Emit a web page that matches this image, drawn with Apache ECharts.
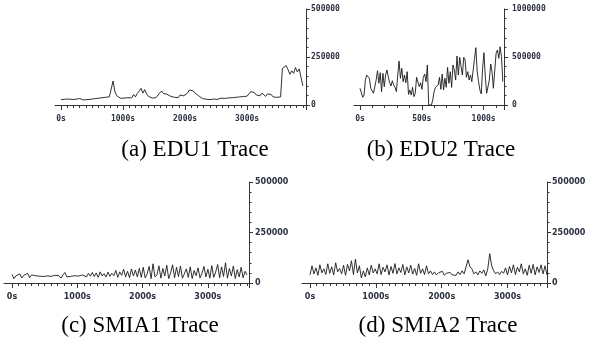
<!DOCTYPE html>
<html>
<head>
<meta charset="utf-8">
<script src="https://cdn.jsdelivr.net/npm/echarts@6/dist/echarts.min.js"></script>
<style>
  html, body { margin: 0; background: #fff; }
  #chart { width: 589px; height: 339px; }
</style>
</head>
<body>
<div id="chart"></div>
<script>
// sample spacing of each trace, seconds
const EDU1_STEP = 30
const EDU2_STEP = 10.9
const SMIA1_STEP = 30
const SMIA2_STEP = 30

const edu1Values = [
  28000, 35000, 30000, 38000, 31000, 36000, 29000,
  33000, 30000, 27000, 34000, 29000, 26000, 32000, 28000, 35000, 30000,
  37000, 33000, 40000, 35000, 42000, 38000, 44000,
  40000, 47000, 43000, 52000,
  125000,
  68000, 48000, 40000, 35000, 33000, 36000, 32000, 38000,
  44000, 37000, 55000, 42000, 60000,
  72000, 87000, 62000, 80000, 58000,
  45000, 40000, 36000, 42000, 38000, 48000,
  62000, 73000, 60000, 70000, 56000, 64000,
  45000, 50000, 40000, 46000, 38000, 52000, 42000, 48000, 55000, 62000,
  78000, 70000, 74000, 62000, 68000,
  48000, 38000, 34000,
  36000, 30000, 33000, 28000, 35000, 31000, 34000, 29000, 32000, 36000,
  30000, 34000, 31000, 37000, 33000, 38000, 35000, 40000, 36000, 42000,
  48000, 44000, 40000, 46000, 42000, 70000,
  60000, 64000, 52000, 58000, 48000, 62000, 55000, 45000, 58000, 50000,
  54000, 42000, 47000, 40000,
  36000, 42000,
  190000,
  200000, 205000, 185000, 160000, 178000, 165000, 195000, 172000, 188000, 192000, 100000
]

const edu2Values = [
  174000, 156000, 80000, 104000, 260000, 312000, 323000, 278000, 174000, 184000,
  122000, 104000, 260000, 357000, 226000, 337000, 139000, 330000, 191000, 312000,
  365000, 295000, 233000, 198000, 253000, 208000, 184000, 139000, 312000, 458000,
  278000, 382000, 243000, 312000, 232000, 347000, 111000, 156000, 104000, 184000,
  87000, 122000, 288000, 295000, 191000, 232000, 163000, 288000, 323000, 243000,
  417000, 0, 0, 0, 52000, 139000, 184000, 191000, 208000, 288000,
  163000, 323000, 156000, 278000, 184000, 392000, 226000, 347000, 184000, 417000,
  365000, 260000, 510000, 312000, 497000, 399000, 312000, 497000, 469000, 288000,
  347000, 260000, 312000, 243000, 365000, 486000, 597000, 347000, 243000, 156000,
  115000, 382000, 545000, 295000, 122000, 191000, 260000, 427000, 347000, 174000,
  156000, 538000, 573000, 486000, 607000, 503000, 243000
]

const smia1Values = [
  42000, 22000, 35000, 28000, 45000, 25000, 38000, 30000, 48000, 26000,
  40000, 32000, 36000, 30000, 34000, 28000, 32000, 27000, 35000, 30000,
  33000, 26000, 38000, 29000, 36000, 24000, 40000,
  52000, 30000, 38000, 33000, 28000, 36000, 30000, 34000, 29000, 40000,
  45000, 30000, 48000, 34000, 52000, 32000, 50000, 28000, 55000, 35000,
  46000, 30000, 54000, 33000, 48000, 36000,
  62000, 28000, 55000, 38000, 68000, 30000, 58000, 26000, 70000, 35000,
  64000, 30000, 72000, 28000,
  78000, 25000, 45000, 82000, 22000, 95000, 30000, 40000, 85000, 24000,
  72000, 35000, 88000, 22000, 50000, 90000, 26000, 78000, 32000, 84000,
  24000, 45000, 70000, 28000, 80000, 22000, 62000, 36000, 75000, 25000,
  48000, 82000, 30000, 68000, 24000, 86000, 28000, 55000, 92000, 26000,
  80000, 32000, 100000, 24000, 72000, 35000, 84000, 22000, 66000, 30000,
  78000, 26000, 58000, 40000
]

const smia2Values = [
  40000, 85000, 45000, 75000, 38000, 90000, 50000, 70000, 42000, 95000,
  48000, 80000, 40000, 100000, 55000, 72000, 45000, 88000, 38000, 92000,
  60000, 110000, 42000, 118000, 50000, 85000,
  25000, 60000, 30000, 75000,
  40000, 88000, 50000, 70000, 45000, 95000, 42000, 78000, 55000, 90000,
  40000, 82000, 48000, 96000, 45000, 75000, 52000, 92000, 40000, 80000,
  50000, 88000, 44000, 72000, 38000, 95000, 48000, 70000, 42000, 85000,
  45000,
  60000, 42000, 55000, 40000, 50000, 45000, 58000, 38000, 48000, 42000,
  52000, 40000, 46000, 38000, 55000, 42000, 60000, 45000, 50000,
  115000, 80000, 70000,
  45000, 55000, 40000, 60000, 48000, 65000, 35000, 70000,
  145000, 85000, 60000,
  45000, 55000, 42000, 58000, 48000,
  75000, 40000, 82000, 50000, 90000, 42000, 78000, 55000, 95000, 45000,
  70000, 38000, 88000, 48000, 92000, 40000, 80000, 52000, 90000, 45000,
  85000, 40000
]

const captions = ["(a) EDU1 Trace", "(b) EDU2 Trace", "(c) SMIA1 Trace", "(d) SMIA2 Trace"]
const xLabelSuffix = "s"

const monoText = {fontFamily: "DejaVu Sans Mono", fontSize: 8, fontWeight: "bold", color: "#2b3140"}
const sansText = {fontFamily: "DejaVu Sans", fontSize: 8, fontWeight: "bold", color: "#2b3140"}

const panels = [
  {values: edu1Values, step: EDU1_STEP, xMax: 3950, xInterval: 1000, xSplit: 10, yMax: 500000,
   box: {left: 61, right: 283, top: 9, bottom: 234}, ext: 6, text: monoText, yMargin: 5,
   cap: [195, 150]},
  {values: edu2Values, step: EDU2_STEP, xMax: 1165, xInterval: 500, xSplit: 5, yMax: 1000000,
   box: {left: 360, right: 85, top: 9, bottom: 234}, ext: 6, text: monoText, yMargin: 8,
   cap: [441, 150]},
  {values: smia1Values, step: SMIA1_STEP, xMax: 3630, xInterval: 1000, xSplit: 10, yMax: 500000,
   box: {left: 12, right: 340, top: 182, bottom: 56}, ext: 8, text: sansText, yMargin: 6,
   cap: [140, 326]},
  {values: smia2Values, step: SMIA2_STEP, xMax: 3600, xInterval: 1000, xSplit: 10, yMax: 500000,
   box: {left: 310, right: 42, top: 182, bottom: 56}, ext: 8, text: sansText, yMargin: 5,
   cap: [438, 326]},
]

const axisColor = "#333"
const grid = [], xAxis = [], yAxis = [], series = [], graphic = []

panels.forEach((p, i) => {
  grid.push({...p.box})
  xAxis.push({
    type: "value", gridIndex: i, min: 0, max: p.xMax, interval: p.xInterval,
    axisLine: {show: true, onZero: false, lineStyle: {color: axisColor, width: 1}},
    axisTick: {show: true, length: 5, lineStyle: {color: axisColor}},
    minorTick: {show: true, splitNumber: p.xSplit, length: 3, lineStyle: {color: axisColor}},
    axisLabel: {...p.text, margin: 10, showMaxLabel: false, formatter: v => v + xLabelSuffix},
    splitLine: {show: false},
  })
  yAxis.push({
    type: "value", gridIndex: i, position: "right", min: 0, max: p.yMax, interval: p.yMax / 2,
    axisLine: {show: true, onZero: false, lineStyle: {color: axisColor, width: 1}},
    axisTick: {show: true, length: 4, lineStyle: {color: axisColor}},
    minorTick: {show: true, splitNumber: 5, length: 2.5, lineStyle: {color: axisColor}},
    axisLabel: {...p.text, margin: p.yMargin, formatter: v => String(v)},
    splitLine: {show: false},
  })
  series.push({
    type: "line", xAxisIndex: i, yAxisIndex: i, symbol: "none", silent: true,
    lineStyle: {color: "#1a1a1a", width: 0.9},
    data: p.values.map((v, k) => [k * p.step, v]),
  })
  graphic.push({
    type: "text", x: p.cap[0], y: p.cap[1],
    style: {
      text: captions[i], fill: "#000", font: "23px 'Liberation Serif'",
      align: "center", verticalAlign: "middle", textAlign: "center", textVerticalAlign: "middle",
    },
  })
})

// the x axis line runs a few pixels left of 0s, draw that part on an overlaid grid
panels.forEach((p, i) => {
  const g = grid.length
  grid.push({...p.box, left: p.box.left - p.ext})
  xAxis.push({
    type: "value", gridIndex: g, min: 0, max: 1,
    axisLine: {show: true, onZero: false, lineStyle: {color: axisColor, width: 1}},
    axisTick: {show: false}, axisLabel: {show: false}, splitLine: {show: false},
  })
  yAxis.push({type: "value", gridIndex: g, show: false})
})

const chart = echarts.init(document.getElementById("chart"), null, {renderer: "canvas"})
chart.setOption({
  animation: false,
  backgroundColor: "#fff",
  grid, xAxis, yAxis, series, graphic,
})
</script>
</body>
</html>
